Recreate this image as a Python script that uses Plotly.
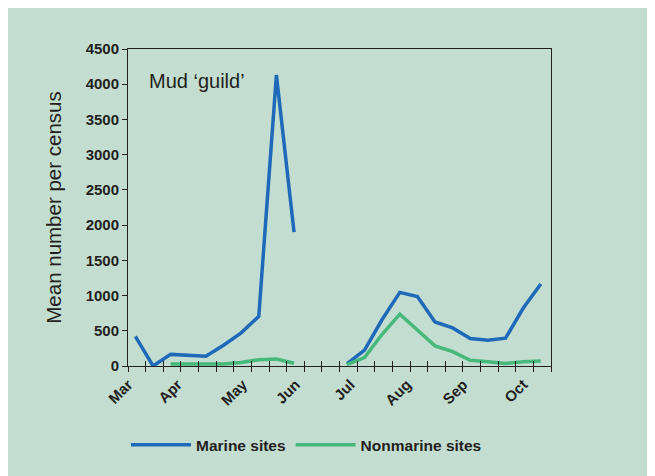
import plotly.graph_objects as go

# ---- data ----
periods = list(range(24))  # ~10-day census periods, Mar (early) .. Oct (late)
marine = [420, 0, 165, 150, 140, 295, 470, 705, 4130, 1900, None, None,
          30, 225, 660, 1045, 985, 625, 540, 390, 365, 395, 820, 1165]
nonmarine = [None, None, 30, 30, 30, 30, 50, 90, 100, 40, None, None,
             20, 120, 450, 735, 510, 285, 205, 80, 60, 35, 60, 70]
month_labels = ["Mar", "Apr", "May", "Jun", "Jul", "Aug", "Sep", "Oct"]
month_pos = [-0.4, 2.4, 6.1, 9.1, 12.2, 15.4, 18.6, 22.0]
y_ticks = list(range(0, 4501, 500))

BG = "#C3DED1"
BLUE = "#1E69B8"
GREEN = "#46B97A"
AX = "#231F20"
FONT = "Arial, Liberation Sans, sans-serif"
xr = [-0.42, 23.58]

fig = go.Figure()
fig.add_trace(go.Scatter(x=periods, y=marine, mode="lines", name="Marine sites",
                         line=dict(color=BLUE, width=3.5), connectgaps=False))
fig.add_trace(go.Scatter(x=periods, y=nonmarine, mode="lines", name="Nonmarine sites",
                         line=dict(color=GREEN, width=3.5), connectgaps=False))
# helper traces so the tick-only overlay axes are rendered
fig.add_trace(go.Scatter(x=[None], y=[None], xaxis="x2", showlegend=False, hoverinfo="skip"))
fig.add_trace(go.Scatter(x=[None], y=[None], xaxis="x3", showlegend=False, hoverinfo="skip"))

bold15 = dict(size=15, color=AX, family=FONT, weight="bold")

fig.update_layout(
    width=655, height=476,
    margin=dict(l=120, r=112, t=41, b=118),
    paper_bgcolor=BG, plot_bgcolor=BG,
    font=dict(family=FONT, color=AX),
    showlegend=True,
    legend=dict(orientation="h", x=0.422, xanchor="center", y=-0.25, yanchor="middle",
                font=dict(size=15.5, color=AX, family=FONT, weight="bold"),
                bgcolor="rgba(0,0,0,0)", itemwidth=60),
    xaxis=dict(range=xr, tickmode="array", tickvals=month_pos, ticktext=month_labels,
               tickangle=-45, ticks="", tickfont=bold15, ticklabelstandoff=3,
               showgrid=False, zeroline=False, showline=True, linecolor=AX,
               linewidth=1, mirror=True, fixedrange=True),
    xaxis2=dict(range=xr, overlaying="x", side="bottom", anchor="y", tickmode="linear",
                tick0=xr[0], dtick=1, ticks="outside", ticklen=5, tickcolor=AX,
                showticklabels=False, showgrid=False, zeroline=False, showline=False),
    xaxis3=dict(range=xr, overlaying="x", side="bottom", anchor="y", tickmode="linear",
                tick0=xr[0], dtick=1, ticks="inside", ticklen=5, tickcolor=AX,
                showticklabels=False, showgrid=False, zeroline=False, showline=False),
    yaxis=dict(range=[0, 4500], tickmode="array", tickvals=y_ticks,
               ticks="outside", ticklen=5, tickcolor=AX,
               tickfont=bold15,
               showgrid=False, zeroline=False, showline=True, linecolor=AX,
               linewidth=1, mirror=True,
               title=dict(text="Mean number per census", font=dict(size=20.5, color=AX),
                          standoff=18)),
)
fig.add_annotation(text="Mud \u2018guild\u2019", xref="paper", yref="paper",
                   x=0.046, y=0.90, xanchor="left", yanchor="middle", showarrow=False,
                   font=dict(size=20, color=AX, family=FONT))

fig.write_html("out.html")
